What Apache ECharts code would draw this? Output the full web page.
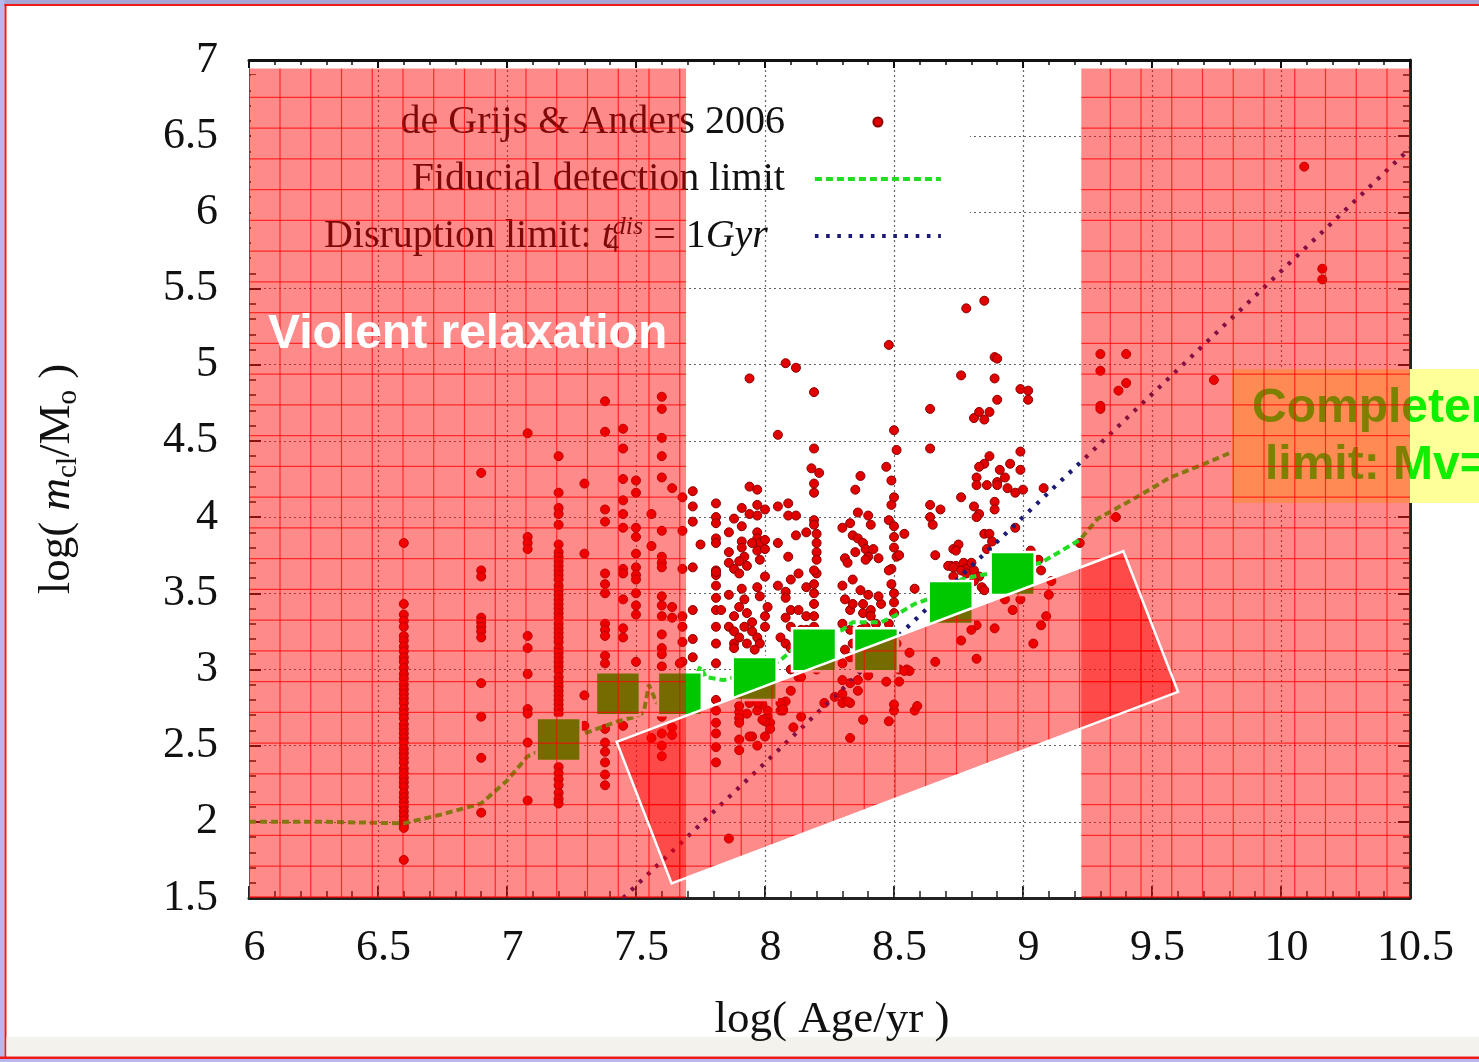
<!DOCTYPE html>
<html>
<head>
<meta charset="utf-8">
<title>Cluster mass vs age</title>
<script src="https://cdn.jsdelivr.net/npm/echarts@6/dist/echarts.min.js"></script>
<style>
  html, body { margin: 0; padding: 0; background: #fff; }
  #chart { width: 1479px; height: 1062px; }
</style>
</head>
<body>
<div id="chart"></div>
<script>
// ---- tick labels ----
const xTickValues = [6, 6.5, 7, 7.5, 8, 8.5, 9, 9.5, 10, 10.5];
const xTickLabels = ['6', '6.5', '7', '7.5', '8', '8.5', '9', '9.5', '10', '10.5'];
const yTickValues = [1.5, 2, 2.5, 3, 3.5, 4, 4.5, 5, 5.5, 6, 6.5, 7];
const yTickLabels = ['1.5', '2', '2.5', '3', '3.5', '4', '4.5', '5', '5.5', '6', '6.5', '7'];

// ---- de Grijs & Anders 2006 clusters: [log age, log mass] ----
const youngClusters = [
  [6.6,3.83],[6.6,3.43],[6.6,3.36],[6.6,3.32],[6.6,3.28],[6.6,3.22],[6.6,3.19],[6.6,3.15],[6.6,3.12],[6.6,3.08],
  [6.6,3.05],[6.6,3.01],[6.6,2.97],[6.6,2.94],[6.6,2.9],[6.6,2.87],[6.6,2.84],[6.6,2.81],[6.6,2.78],[6.6,2.74],
  [6.6,2.71],[6.6,2.68],[6.6,2.64],[6.6,2.61],[6.6,2.58],[6.6,2.55],[6.6,2.52],[6.6,2.48],[6.6,2.45],[6.6,2.42],
  [6.6,2.39],[6.6,2.35],[6.6,2.32],[6.6,2.29],[6.6,2.26],[6.6,2.23],[6.6,2.19],[6.6,2.16],[6.6,2.13],[6.6,2.1],
  [6.6,2.07],[6.6,2.04],[6.6,2.01],[6.6,1.98],[6.6,1.96],[6.6,1.75],
  [6.9,4.29],[6.9,3.65],[6.9,3.61],[6.9,3.34],[6.9,3.31],[6.9,3.28],[6.9,3.25],[6.9,3.21],[6.9,2.91],[6.9,2.69],[6.9,2.42],[6.9,2.06],
  [7.08,4.55],[7.08,3.87],[7.08,3.83],[7.08,3.79],[7.08,3.22],[7.08,3.14],[7.08,2.97],[7.08,2.74],[7.08,2.71],[7.08,2.52],[7.08,2.14],
  [7.2,4.4],[7.2,4.16],[7.2,4.06],[7.2,4.02],[7.2,3.95],[7.2,3.82],[7.2,3.77],[7.2,3.74],[7.2,3.71],[7.2,3.68],
  [7.2,3.65],[7.2,3.62],[7.2,3.59],[7.2,3.55],[7.2,3.52],[7.2,3.49],[7.2,3.46],[7.2,3.43],[7.2,3.4],[7.2,3.37],
  [7.2,3.34],[7.2,3.3],[7.2,3.27],[7.2,3.24],[7.2,3.21],[7.2,3.18],[7.2,3.14],[7.2,3.11],[7.2,3.08],[7.2,3.05],
  [7.2,3.02],[7.2,2.99],[7.2,2.95],[7.2,2.92],[7.2,2.89],[7.2,2.86],[7.2,2.83],[7.2,2.8],[7.2,2.77],[7.2,2.74],
  [7.2,2.71],[7.2,2.36],[7.2,2.32],[7.2,2.28],[7.2,2.24],[7.2,2.19],[7.2,2.15],[7.2,2.12],
  [7.3,4.22],[7.3,3.76],[7.3,2.83],[7.3,2.63],
  [7.38,4.76],[7.38,4.56],[7.38,4.05],[7.38,3.97],[7.38,3.63],[7.38,3.56],[7.38,3.5],[7.38,3.3],[7.38,3.26],[7.38,3.22],
  [7.38,3.09],[7.38,3.04],[7.38,2.61],[7.38,2.52],[7.38,2.46],[7.38,2.39],[7.38,2.31],[7.38,2.24],
  [7.45,4.58],[7.45,4.45],[7.45,4.25],[7.45,4.11],[7.45,4.02],[7.45,3.93],[7.45,3.66],[7.45,3.63],[7.45,3.46],[7.45,3.27],[7.45,3.21],[7.45,2.63],
  [7.5,4.24],[7.5,4.16],[7.5,3.93],[7.5,3.87],[7.5,3.76],[7.5,3.67],[7.5,3.62],[7.5,3.59],[7.5,3.5],[7.5,3.42],[7.5,3.36],[7.5,3.05],
  [7.56,4.02],[7.56,3.81],[7.56,2.55],
  [7.6,4.79],[7.6,4.71],[7.6,4.52],[7.6,4.4],[7.6,4.26],[7.6,3.91],[7.6,3.74],[7.6,3.7],[7.6,3.67],[7.6,3.48],
  [7.6,3.42],[7.6,3.35],[7.6,3.23],[7.6,3.14],[7.6,3.1],[7.6,3.02],[7.6,2.69],[7.6,2.58],[7.6,2.5],[7.6,2.43],
  [7.64,4.19],[7.64,3.41],[7.64,3.34],[7.64,2.62],[7.64,2.57],
  [7.68,4.13],[7.68,3.91],[7.68,3.66],[7.68,3.35],[7.68,3.28],[7.68,3.18],[7.68,3.05],[7.67,3.04]
];
const intermediateClusters = [
  [8.78,5.37],[8.85,5.42],[8.48,5.13],[8.08,5.01],[8.12,4.98],[8.89,5.05],[8.9,5.04],[7.94,4.91],[8.19,4.82],[8.76,4.93],
  [8.89,4.91],[8.9,4.77],[8.99,4.84],[9.02,4.83],[9.02,4.77],[8.64,4.71],[8.81,4.65],[8.83,4.69],[8.87,4.69],[8.85,4.64],
  [8.05,4.54],[8.5,4.57],[8.19,4.45],[8.51,4.44],[8.64,4.45],[8.99,4.43],[8.87,4.4],[8.85,4.35],[8.83,4.33],[8.95,4.35],
  [8.99,4.31],[8.91,4.31],[8.93,4.26],[8.9,4.23],[8.82,4.26],[8.82,4.21],[8.86,4.21],[8.9,4.21],[8.94,4.19],[8.97,4.16],
  [9.0,4.18],[9.08,4.19],[9.22,3.83],[8.18,4.32],[8.21,4.29],[8.19,4.22],[8.19,4.16],[8.37,4.27],[8.35,4.18],[8.47,4.33],
  [8.49,4.24],[8.5,4.13],[8.49,4.08],[8.76,4.13],[8.81,4.07],[8.83,4.02],[8.89,4.1],[8.89,4.05],[8.82,4.0],
  [7.72,4.17],[7.72,4.07],[7.72,3.97],[7.72,3.67],[7.81,4.09],[7.81,4.0],[7.81,3.96],[7.75,3.82],[7.81,3.86],[7.81,3.83],
  [7.81,3.65],[7.81,3.62],[7.86,3.9],[7.86,3.77],[7.86,3.7],[7.88,3.99],[7.91,3.94],[7.91,4.06],[7.94,4.2],[7.97,4.18],
  [7.94,4.02],[7.97,4.01],[7.97,4.08],[8.0,4.05],[7.97,3.9],[7.97,3.86],[7.98,3.83],[7.97,3.78],[7.98,3.72],[8.0,3.85],
  [8.0,3.79],[7.95,3.83],[7.91,3.84],[7.91,3.8],[7.92,3.74],[7.9,3.71],[7.93,3.68],[7.88,3.66],[8.05,4.07],[8.09,4.09],
  [8.09,4.01],[8.12,4.01],[8.05,3.83],[8.09,3.74],[8.12,3.88],[8.16,3.9],[8.19,3.98],[8.19,3.95],[8.2,3.89],[8.2,3.83],
  [8.2,3.77],[8.2,3.72],[8.2,3.63],[8.3,3.93],[8.33,3.96],[8.36,4.03],[8.4,4.01],[8.41,3.95],[8.34,3.88],[8.36,3.86],
  [8.38,3.83],[8.35,3.77],[8.39,3.79],[8.4,3.74],[8.42,3.79],[8.31,3.73],[8.32,3.7],[8.39,3.72],[8.44,3.73],[8.48,3.98],
  [8.5,3.94],[8.5,3.87],[8.5,3.8],[8.51,3.74],[8.52,3.75],[8.54,3.89],[8.49,3.66],[8.64,4.08],[8.68,4.05],[8.64,4.0],
  [8.65,3.95],[8.66,3.75],[8.73,3.79],[8.75,3.82],[8.74,3.78],[8.72,3.68],[8.74,3.68],[8.77,3.7],[8.78,3.66],[8.85,3.89],
  [8.87,3.89],[8.88,3.84],[8.97,3.93],[8.86,3.79],[9.03,3.78],[9.06,3.72],[9.07,3.65],
  [7.72,3.39],[7.72,3.2],[7.72,3.08],[7.81,3.64],[7.81,3.55],[7.81,3.47],[7.81,3.39],[7.81,3.28],[7.81,3.17],[7.81,3.04],
  [7.81,2.8],[7.81,2.73],[7.81,2.65],[7.81,2.58],[7.81,2.49],[7.81,2.39],[7.86,3.49],[7.86,3.28],[7.83,3.39],[7.88,3.35],
  [7.88,3.25],[7.88,3.17],[7.88,3.14],[7.9,3.63],[7.91,3.53],[7.92,3.46],[7.9,3.41],[7.93,3.37],[7.95,3.31],[7.92,3.28],
  [7.95,3.25],[7.9,3.21],[7.93,3.17],[7.97,3.21],[7.98,3.17],[7.96,3.13],[7.97,3.54],[7.98,3.48],[8.0,3.61],[8.0,3.35],
  [8.0,3.28],[8.01,3.41],[7.97,2.73],[7.99,2.77],[8.01,2.69],[8.02,2.65],[7.9,2.72],[7.9,2.68],[7.95,2.56],[7.97,2.5],
  [8.0,2.56],[7.9,2.47],[8.06,2.73],[8.08,2.79],[8.05,3.55],[8.1,3.59],[8.08,3.51],[8.08,3.47],[8.1,3.39],[8.08,3.34],
  [8.1,3.28],[8.06,3.21],[8.08,3.17],[8.1,3.14],[8.13,3.63],[8.16,3.54],[8.13,3.39],[8.16,3.35],[8.16,3.26],[8.14,3.26],
  [8.19,3.65],[8.19,3.56],[8.19,3.5],[8.19,3.43],[8.19,3.35],[8.19,3.28],[8.19,3.17],[8.19,3.08],[8.2,3.0],[8.3,3.55],
  [8.31,3.46],[8.33,3.39],[8.3,3.3],[8.33,3.26],[8.31,3.13],[8.34,3.59],[8.37,3.52],[8.34,3.43],[8.38,3.43],[8.4,3.49],
  [8.38,3.37],[8.41,3.39],[8.41,3.35],[8.39,3.28],[8.43,3.3],[8.45,3.43],[8.44,3.48],[8.37,3.26],[8.34,3.17],[8.33,3.08],
  [8.36,3.02],[8.48,3.65],[8.49,3.56],[8.5,3.5],[8.5,3.44],[8.5,3.37],[8.48,3.3],[8.5,3.24],[8.51,3.17],[8.58,3.53],
  [8.71,3.68],[8.73,3.67],[8.73,3.61],[8.76,3.65],[8.78,3.63],[8.8,3.7],[8.81,3.65],[8.83,3.61],[8.84,3.54],[8.85,3.52],
  [8.81,3.58],[9.11,3.58],[9.1,3.49],[9.09,3.35],[9.07,3.29],[9.04,3.17],[8.89,3.27],[8.93,3.46],[8.96,3.39],[8.99,3.46],
  [8.82,3.29],[8.8,3.26],[8.76,3.19],[8.82,3.07],[8.66,3.05],[8.56,3.11],[8.55,3.0],[8.52,2.92],[8.58,2.73],[8.52,3.0],
  [8.47,2.92],[8.48,2.66],[8.38,2.67],[8.4,2.96],[8.36,2.86],[8.33,2.78],[8.3,2.78],[8.33,2.55],[8.5,2.73],[8.1,3.0],
  [8.07,2.73],[8.06,2.78],[8.1,2.86],[8.13,2.95],
  [7.9,2.76],[7.9,2.65],[7.9,2.54],[7.94,2.56],[8.0,2.66],[7.93,2.71],[7.94,2.78],[7.86,1.89],[8.3,2.84],[8.33,2.91],
  [8.36,2.93],[8.5,2.77],[8.56,2.99],[8.59,2.76],[8.54,2.99],[7.97,2.78],[8.01,2.73],[7.99,2.67],[8.07,2.74],[8.02,2.61],
  [8.14,2.95],[8.17,3.02],[8.17,3.08],[8.3,3.04],[8.27,2.82],[8.23,2.78],[8.32,2.79],[8.3,2.93],[8.14,2.69],[8.11,2.62]
];
const oldClusters = [
  [9.3,5.07],[9.4,5.07],[9.3,4.96],[9.4,4.88],[9.37,4.83],[9.3,4.73],[9.3,4.71],[9.74,4.9],[10.09,6.3],[10.16,5.63],
  [10.16,5.56],[9.36,4.0]
];

// ---- mean mass per age bin ----
const binAge = [7.2, 7.43, 7.67, 7.96, 8.19, 8.43, 8.72, 8.96];
const binMass = [2.54, 2.84, 2.84, 2.94, 3.13, 3.13, 3.44, 3.63];

// ---- fiducial detection limit ----
const fidAge = [6.0, 6.3, 6.6, 6.75, 6.9, 7.0, 7.08, 7.2, 7.3, 7.43, 7.5, 7.53, 7.55, 7.58, 7.7, 7.75, 7.77, 7.84, 7.95,
  8.06, 8.1, 8.2, 8.3, 8.34, 8.45, 8.5, 8.58, 8.63, 8.7, 8.76, 8.81, 8.9, 9.07, 9.22, 9.29, 9.44, 9.57, 9.69, 9.8];
const fidMass = [2.0, 2.0, 1.99, 2.05, 2.12, 2.27, 2.43, 2.52, 2.58, 2.66, 2.69, 2.72, 2.9, 2.78, 2.85, 3.02, 2.95, 2.93, 2.98,
  3.06, 3.12, 3.2, 3.26, 3.31, 3.31, 3.35, 3.43, 3.46, 3.52, 3.59, 3.61, 3.64, 3.7, 3.85, 3.99, 4.13, 4.26, 4.34, 4.42];

// ---- disruption limit, t4_dis = 1 Gyr ----
const disAge = [7.45, 10.5];
const disMass = [1.5, 6.42];

// ---- shaded regions, corners in [log age, log mass] ----
const violentBand = [[6, 1.5], [7.694, 1.5], [7.694, 6.944], [6, 6.944]];
const oldAgeBand = [[9.226, 1.5], [10.5, 1.5], [10.5, 6.944], [9.226, 6.944]];
const selectionBox = [[7.425, 2.525], [9.389, 3.776], [9.601, 2.853], [7.638, 1.596]];
const overlayRegions = [violentBand, oldAgeBand, selectionBox];

const NAME_DATA = 'de Grijs & Anders 2006';
const NAME_FID = 'Fiducial detection limit';
const NAME_DIS = 'Disruption limit';

const SERIF = '"Liberation Serif", "Times New Roman", serif';
const SANS = '"Liberation Sans", Arial, sans-serif';

// translucent red fill with a fine red grid
function makeHatch() {
  const c = document.createElement('canvas');
  c.width = 123; c.height = 123;
  const g = c.getContext('2d');
  g.fillStyle = 'rgba(255,0,0,0.46)';
  g.fillRect(0, 0, 123, 123);
  g.strokeStyle = 'rgba(255,0,0,0.72)';
  g.lineWidth = 1.2;
  for (let k = 0; k < 4; k++) {
    const p = 30.75 * k;
    g.beginPath(); g.moveTo(3.25 + p, 0); g.lineTo(3.25 + p, 123); g.stroke();
    g.beginPath(); g.moveTo(0, 5.05 + p); g.lineTo(123, 5.05 + p); g.stroke();
  }
  return c;
}
const hatch = makeHatch();

function tickText(values, labels) {
  return function (v) {
    const i = values.findIndex(t => Math.abs(t - v) < 1e-6);
    return i >= 0 ? labels[i] : '';
  };
}

const zip = (a, b) => a.map((v, i) => [v, b[i]]);

const chart = echarts.init(document.getElementById('chart'), null, { renderer: 'canvas' });

const gridLine = { show: true, showMinLine: false, showMaxLine: false,
  lineStyle: { color: '#666', width: 1.2, type: [2, 3] } };

chart.setOption({
  animation: false,
  backgroundColor: '#fff',
  grid: { left: 249, right: 69, top: 60, bottom: 164, containLabel: false },
  xAxis: [
    {
      type: 'value', position: 'bottom', min: 6, max: 10.5, interval: 0.5,
      axisLine: { show: true, lineStyle: { color: '#222', width: 3 } },
      axisTick: { show: true, inside: true, length: 12, lineStyle: { color: '#222', width: 2 } },
      minorTick: { show: true, splitNumber: 5, length: 7, lineStyle: { color: '#222', width: 1.5 } },
      splitLine: { show: false },
      axisLabel: { margin: 28, fontFamily: SERIF, fontSize: 44, color: '#111', padding: [0, 0, 0, 11],
        formatter: tickText(xTickValues, xTickLabels) },
      name: 'log( Age/yr )', nameLocation: 'middle', nameGap: 100,
      nameTextStyle: { fontFamily: SERIF, fontSize: 45, color: '#111', padding: [0, 0, 0, 5] }
    },
    {
      type: 'value', position: 'top', min: 6, max: 10.5, interval: 0.5, z: 2,
      axisLine: { show: true, lineStyle: { color: '#111', width: 3 } },
      axisTick: { show: true, inside: true, length: 8, lineStyle: { color: '#111', width: 2 } },
      minorTick: { show: true, splitNumber: 5, length: 5, lineStyle: { color: '#111', width: 1.5 } },
      splitLine: gridLine,
      axisLabel: { show: false }
    }
  ],
  yAxis: [
    {
      type: 'value', position: 'left', min: 1.5, max: 7, interval: 0.5,
      axisLine: { show: true, lineStyle: { color: '#888', width: 1 } },
      axisTick: { show: true, inside: true, length: 12, lineStyle: { color: '#222', width: 2 } },
      minorTick: { show: true, splitNumber: 5, length: 7, lineStyle: { color: '#222', width: 1.5 } },
      splitLine: gridLine,
      axisLabel: { margin: 31, fontFamily: SERIF, fontSize: 44, color: '#111',
        formatter: tickText(yTickValues, yTickLabels) },
      name: '{n|log( }{i|m}{s|cl}{n|/M}{s|o}{n| )}', nameLocation: 'middle', nameGap: 166,
      nameTextStyle: {
        fontFamily: SERIF, fontSize: 45, color: '#111',
        rich: {
          n: { fontFamily: SERIF, fontSize: 45, lineHeight: 52, color: '#111' },
          i: { fontFamily: SERIF, fontSize: 45, lineHeight: 52, fontStyle: 'italic', color: '#111' },
          s: { fontFamily: SERIF, fontSize: 29, lineHeight: 29, verticalAlign: 'bottom', color: '#111' }
        }
      }
    },
    {
      type: 'value', position: 'right', min: 1.5, max: 7, interval: 0.5,
      axisLine: { show: true, lineStyle: { color: '#222', width: 3 } },
      axisTick: { show: true, inside: true, length: 12, lineStyle: { color: '#222', width: 2 } },
      minorTick: { show: true, splitNumber: 5, length: 7, lineStyle: { color: '#222', width: 1.5 } },
      splitLine: { show: false },
      axisLabel: { show: false }
    }
  ],
  legend: {
    data: [NAME_DATA, { name: NAME_FID, itemStyle: { opacity: 0 } }, { name: NAME_DIS, itemStyle: { opacity: 0 } }],
    orient: 'vertical', align: 'right', right: 536, top: 100, padding: 0,
    itemWidth: 126, itemHeight: 9, itemGap: 13, selectedMode: false, z: 4,
    lineStyle: { width: 'inherit' },
    textStyle: {
      fontFamily: SERIF, fontSize: 40, color: '#111', lineHeight: 44,
      rich: {
        t: { fontFamily: SERIF, fontSize: 40, lineHeight: 44, color: '#111' },
        it: { fontFamily: SERIF, fontSize: 40, lineHeight: 44, fontStyle: 'italic', color: '#111' },
        sub: { fontFamily: SERIF, fontSize: 26, lineHeight: 26, width: 0, align: 'left', verticalAlign: 'bottom', color: '#111' },
        sup: { fontFamily: SERIF, fontSize: 26, lineHeight: 28, fontStyle: 'italic', verticalAlign: 'top', color: '#111' },
        gap: { fontSize: 10, width: 25 },
        gap3: { fontSize: 10, width: 42 }
      }
    },
    formatter: function (name) {
      if (name === NAME_DIS) {
        return '{t|Disruption limit: }{it|t}{sub|4}{sup|dis}{t| = 1}{it|Gyr}{gap3| }';
      }
      return '{t|' + name + '}{gap| }';
    }
  },
  graphic: [
    // page frame
    { type: 'rect', silent: true, z: 0, shape: { x: 0, y: 0, width: 1479, height: 4 }, style: { fill: '#a6a6d4' } },
    { type: 'rect', silent: true, z: 0, shape: { x: 0, y: 4, width: 1479, height: 2 }, style: { fill: '#ee1a1a' } },
    { type: 'rect', silent: true, z: 0, shape: { x: 0, y: 0, width: 4.5, height: 1062 }, style: { fill: '#b8b8ee' } },
    { type: 'rect', silent: true, z: 0, shape: { x: 4.5, y: 4, width: 2, height: 1055 }, style: { fill: '#ee1a1a' } },
    { type: 'rect', silent: true, z: 0, shape: { x: 6.5, y: 1037, width: 1472.5, height: 19.5 }, style: { fill: '#f4f2ec' } },
    { type: 'rect', silent: true, z: 0, shape: { x: 0, y: 1056.5, width: 1479, height: 2.5 }, style: { fill: '#ee1a1a' } },
    { type: 'rect', silent: true, z: 0, shape: { x: 0, y: 1059, width: 1479, height: 3 }, style: { fill: '#b8b8ee' } },
    // key backdrop (hides the horizontal grid lines behind the key)
    { type: 'rect', silent: true, z: 1, shape: { x: 251, y: 75, width: 719, height: 195 }, style: { fill: '#fff' } },
    // completeness note
    { type: 'rect', silent: true, z: 5, shape: { x: 1232, y: 369, width: 260, height: 134 }, style: { fill: '#ffff99' } },
    { type: 'text', silent: true, z: 5, x: 1252, y: 409,
      style: { text: 'Completeness', fill: '#11ee00', fontFamily: SANS, fontWeight: 'bold', fontSize: 48, verticalAlign: 'middle' } },
    { type: 'text', silent: true, z: 5, x: 1265, y: 466,
      style: { text: 'limit: Mv=', fill: '#11ee00', fontFamily: SANS, fontWeight: 'bold', fontSize: 48, verticalAlign: 'middle' } },
    // region label
    { type: 'text', silent: true, z: 20, x: 268, y: 335,
      style: { text: 'Violent relaxation', fill: '#ffffff', fontFamily: SANS, fontWeight: 'bold', fontSize: 48, verticalAlign: 'middle' } }
  ],
  series: [
    {
      name: NAME_DATA, type: 'scatter', z: 3,
      data: youngClusters.concat(intermediateClusters, oldClusters),
      symbol: 'circle', symbolSize: 9,
      itemStyle: { color: '#e00000', borderColor: '#8c0000', borderWidth: 1, opacity: 1 }
    },
    {
      name: NAME_FID, type: 'line', z: 4, data: zip(fidAge, fidMass),
      symbol: 'none', smooth: false,
      lineStyle: { color: '#22dd22', width: 4, type: [7, 4] }
    },
    {
      name: NAME_DIS, type: 'line', z: 4, data: zip(disAge, disMass),
      symbol: 'none',
      lineStyle: { color: '#1c1c78', width: 4.2, type: [3.6, 7.6] }
    },
    {
      name: 'bin means', type: 'scatter', z: 5, data: zip(binAge, binMass),
      symbol: 'rect', symbolSize: [44, 43],
      itemStyle: { color: '#00c800', borderColor: '#ffffff', borderWidth: 2.5, opacity: 1 }
    },
    {
      name: 'regions', type: 'custom', z: 10, silent: true,
      data: overlayRegions.map(r => r[0]),
      encode: { x: 0, y: 1 },
      renderItem: function (params, api) {
        const region = overlayRegions[params.dataIndex];
        const points = region.map(c => api.coord(c));
        return {
          type: 'polygon',
          shape: { points: points },
          style: {
            fill: { image: hatch, repeat: 'repeat' },
            stroke: region === selectionBox ? '#ffffff' : null,
            lineWidth: region === selectionBox ? 2.5 : 0
          }
        };
      }
    }
  ]
});
</script>
</body>
</html>
